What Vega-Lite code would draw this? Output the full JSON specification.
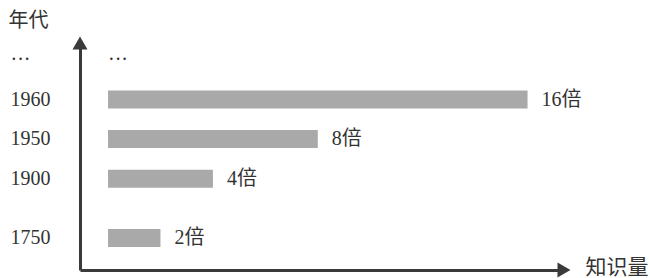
{
  "$schema": "https://vega.github.io/schema/vega-lite/v6.json",
  "width": 484,
  "height": 227,
  "autosize": {"type": "none"},
  "padding": {"left": 80, "top": 43, "right": 86, "bottom": 8},
  "background": "white",
  "config": {"view": {"stroke": null}},
  "data": {"values": [
    {"year": "···", "mult": null, "label": "···"},
    {"year": "1960", "mult": 16, "label": "16倍"},
    {"year": "1950", "mult": 8, "label": "8倍"},
    {"year": "1900", "mult": 4, "label": "4倍"},
    {"year": "1750", "mult": 2, "label": "2倍"}
  ]},
  "layer": [
    {
      "layer": [
        {
          "mark": {"type": "bar", "color": "#a9a9a9", "size": 18},
          "transform": [{"filter": "datum.mult != null"}],
          "encoding": {
            "y": {"field": "year", "type": "nominal",
              "scale": {"domain": ["···", " a", "1960", " b", "1950", " c", "1900", " d", " e", "1750"], "paddingInner": 0, "paddingOuter": 0.738, "align": 0.243},
              "axis": {"values": ["···", "1960", "1950", "1900", "1750"], "domain": true, "domainColor": "#3a3a3a", "domainWidth": 3, "ticks": false, "labelAlign": "left", "labelBaseline": "middle", "labelPadding": 70, "labelFont": "Liberation Serif, Noto Sans CJK SC", "labelFontSize": 20, "labelColor": "#333333", "title": "年代", "titleAngle": 0, "titleX": -72, "titleY": -23, "titleAlign": "left", "titleBaseline": "middle", "titleFont": "Noto Sans CJK SC", "titleFontSize": 20, "titleFontWeight": "normal", "titleColor": "#333333", "grid": false}},
            "x": {"field": "mult", "type": "quantitative",
              "scale": {"domain": [-1.069, 17.39], "nice": false, "zero": false},
              "axis": {"domain": true, "domainColor": "#3a3a3a", "domainWidth": 3, "ticks": false, "labels": false, "grid": false, "title": "知识量", "titleX": 505, "titleY": -3, "titleAlign": "left", "titleBaseline": "middle", "titleAngle": 0, "titleFont": "Noto Sans CJK SC", "titleFontSize": 21, "titleFontWeight": "normal", "titleColor": "#333333"}}
          }
        },
        {
          "mark": {"type": "text", "align": "left", "baseline": "middle", "dx": 14, "font": "Liberation Serif, Noto Sans CJK SC", "fontSize": 20, "color": "#333333"},
          "transform": [{"filter": "datum.mult != null"}],
          "encoding": {
            "y": {"field": "year", "type": "nominal"},
            "x": {"field": "mult", "type": "quantitative"},
            "text": {"field": "label"}
          }
        },
        {
          "mark": {"type": "text", "align": "left", "baseline": "middle", "font": "Liberation Serif", "fontSize": 20, "color": "#333333"},
          "transform": [{"filter": "datum.mult == null"}],
          "encoding": {
            "y": {"field": "year", "type": "nominal"},
            "x": {"datum": 0, "type": "quantitative"},
            "text": {"field": "label"}
          }
        }
      ]
    },
    {
      "data": {"values": [
        {"axis": "y", "px": -1.069, "py": 1, "shape": "triangle-up"},
        {"axis": "x", "px": 17.39, "py": 0, "shape": "triangle-right"}
      ]},
      "mark": {"type": "point", "filled": true, "color": "#3a3a3a", "opacity": 1, "size": 225},
      "encoding": {
        "x": {"field": "px", "type": "quantitative"},
        "y": {"field": "py", "type": "quantitative", "scale": {"domain": [0, 1], "nice": false, "zero": false}, "axis": null},
        "shape": {"field": "shape", "type": "nominal", "scale": {"domain": ["triangle-up", "triangle-right"], "range": ["triangle-up", "triangle-right"]}, "legend": null}
      }
    }
  ],
  "resolve": {"scale": {"y": "independent"}}
}
